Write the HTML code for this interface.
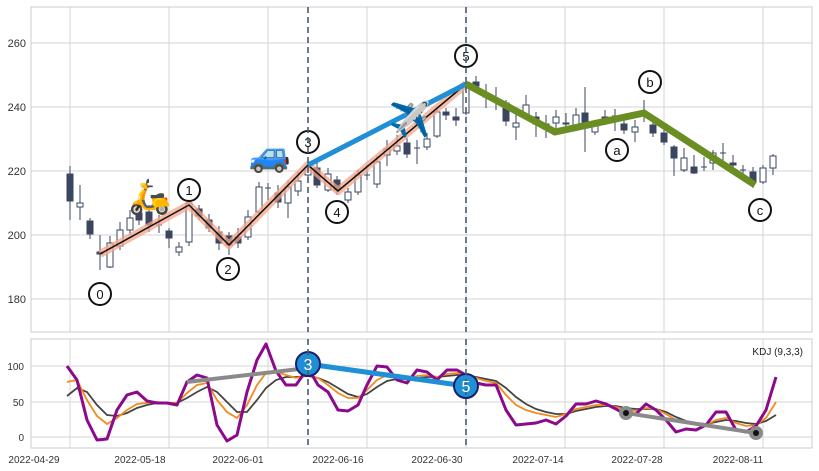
<!DOCTYPE html>
<html><head><meta charset="utf-8"><style>
html,body{margin:0;padding:0;background:#fff;}
svg{display:block;font-family:"Liberation Sans",sans-serif;}
</style></head><body>
<svg width="819" height="471" viewBox="0 0 819 471" xmlns="http://www.w3.org/2000/svg">
<rect width="819" height="471" fill="#fff"/>
<g stroke="#d5d5d5" stroke-width="1">
<line x1="70" y1="7" x2="70" y2="332"/><line x1="169" y1="7" x2="169" y2="332"/><line x1="268" y1="7" x2="268" y2="332"/><line x1="367" y1="7" x2="367" y2="332"/><line x1="466" y1="7" x2="466" y2="332"/><line x1="565" y1="7" x2="565" y2="332"/><line x1="664" y1="7" x2="664" y2="332"/><line x1="763" y1="7" x2="763" y2="332"/>
<line x1="31" y1="43" x2="812" y2="43"/><line x1="31" y1="107" x2="812" y2="107"/><line x1="31" y1="171" x2="812" y2="171"/><line x1="31" y1="235" x2="812" y2="235"/><line x1="31" y1="299" x2="812" y2="299"/>
</g>
<rect x="31" y="7" width="781" height="325" fill="none" stroke="#ccc"/>
<g font-size="11" fill="#333" text-anchor="end">
<text x="26" y="47">260</text><text x="26" y="111">240</text><text x="26" y="175">220</text><text x="26" y="239">200</text><text x="26" y="303">180</text>
</g>
<g stroke="#3a4560" stroke-width="1">
<line x1="70" y1="166" x2="70" y2="220"/><rect x="67" y="174" width="6" height="27" fill="#3a4560"/>
<line x1="80" y1="185" x2="80" y2="220"/><rect x="77" y="203" width="6" height="4" fill="#fff"/>
<line x1="90" y1="218" x2="90" y2="239"/><rect x="87" y="221" width="6" height="13" fill="#3a4560"/>
<line x1="100" y1="235" x2="100" y2="270"/><rect x="97" y="252" width="6" height="2" fill="#3a4560"/>
<line x1="110" y1="236" x2="110" y2="268"/><rect x="107" y="243" width="6" height="24" fill="#fff"/>
<line x1="120" y1="222" x2="120" y2="250"/><rect x="117" y="230" width="6" height="16" fill="#fff"/>
<line x1="130" y1="210" x2="130" y2="235"/><rect x="127" y="218" width="6" height="12" fill="#fff"/>
<line x1="139" y1="205" x2="139" y2="225"/><rect x="136" y="213" width="6" height="7" fill="#3a4560"/>
<line x1="149" y1="205" x2="149" y2="232"/><rect x="146" y="212" width="6" height="13" fill="#3a4560"/>
<line x1="159" y1="215" x2="159" y2="233"/><line x1="156" y1="225" x2="162" y2="225"/>
<line x1="169" y1="228" x2="169" y2="248"/><rect x="166" y="231" width="6" height="7" fill="#3a4560"/>
<line x1="179" y1="242" x2="179" y2="256"/><rect x="176" y="247" width="6" height="5" fill="#fff"/>
<line x1="189" y1="198" x2="189" y2="246"/><rect x="186" y="203" width="6" height="39" fill="#fff"/>
<line x1="199" y1="205" x2="199" y2="220"/><rect x="196" y="209" width="6" height="7" fill="#3a4560"/>
<line x1="209" y1="214" x2="209" y2="232"/><rect x="206" y="220" width="6" height="8" fill="#3a4560"/>
<line x1="219" y1="226" x2="219" y2="250"/><rect x="216" y="232" width="6" height="11" fill="#3a4560"/>
<line x1="229" y1="232" x2="229" y2="255"/><rect x="226" y="236" width="6" height="9" fill="#3a4560"/>
<line x1="238" y1="228" x2="238" y2="248"/><rect x="235" y="237" width="6" height="6" fill="#3a4560"/>
<line x1="248" y1="210" x2="248" y2="240"/><rect x="245" y="217" width="6" height="20" fill="#fff"/>
<line x1="259" y1="182" x2="259" y2="215"/><rect x="256" y="187" width="6" height="25" fill="#fff"/>
<line x1="268" y1="183" x2="268" y2="200"/><line x1="265" y1="188" x2="271" y2="188"/>
<line x1="278" y1="185" x2="278" y2="208"/><rect x="275" y="193" width="6" height="9" fill="#3a4560"/>
<line x1="288" y1="180" x2="288" y2="218"/><rect x="285" y="187" width="6" height="16" fill="#fff"/>
<line x1="298" y1="172" x2="298" y2="196"/><rect x="295" y="181" width="6" height="10" fill="#fff"/>
<line x1="308" y1="162" x2="308" y2="178"/><rect x="305" y="167" width="6" height="8" fill="#fff"/>
<line x1="317" y1="163" x2="317" y2="188"/><rect x="314" y="168" width="6" height="17" fill="#3a4560"/>
<line x1="328" y1="168" x2="328" y2="192"/><rect x="325" y="174" width="6" height="16" fill="#fff"/>
<line x1="337" y1="176" x2="337" y2="195"/><rect x="334" y="180" width="6" height="10" fill="#3a4560"/>
<line x1="348" y1="188" x2="348" y2="203"/><rect x="345" y="192" width="6" height="8" fill="#fff"/>
<line x1="358" y1="170" x2="358" y2="195"/><rect x="355" y="175" width="6" height="17" fill="#fff"/>
<line x1="367" y1="165" x2="367" y2="180"/><line x1="364" y1="175" x2="370" y2="175"/>
<line x1="377" y1="156" x2="377" y2="188"/><rect x="374" y="162" width="6" height="22" fill="#fff"/>
<line x1="387" y1="140" x2="387" y2="166"/><rect x="384" y="149" width="6" height="6" fill="#fff"/>
<line x1="397" y1="135" x2="397" y2="155"/><rect x="394" y="146" width="6" height="5" fill="#fff"/>
<line x1="407" y1="138" x2="407" y2="158"/><rect x="404" y="143" width="6" height="11" fill="#3a4560"/>
<line x1="417" y1="140" x2="417" y2="164"/><line x1="414" y1="148" x2="420" y2="148"/>
<line x1="427" y1="133" x2="427" y2="150"/><rect x="424" y="139" width="6" height="8" fill="#fff"/>
<line x1="437" y1="108" x2="437" y2="138"/><rect x="434" y="112" width="6" height="24" fill="#fff"/>
<line x1="446" y1="108" x2="446" y2="120"/><rect x="443" y="112" width="6" height="3" fill="#3a4560"/>
<line x1="456" y1="108" x2="456" y2="126"/><rect x="453" y="117" width="6" height="3" fill="#3a4560"/>
<line x1="466" y1="80" x2="466" y2="115"/><rect x="463" y="87" width="6" height="26" fill="#fff"/>
<line x1="476" y1="76" x2="476" y2="92"/><rect x="473" y="82" width="6" height="4" fill="#3a4560"/>
<line x1="486" y1="84" x2="486" y2="108"/><rect x="483" y="94" width="6" height="3" fill="#3a4560"/>
<line x1="496" y1="87" x2="496" y2="110"/><line x1="493" y1="98" x2="499" y2="98"/>
<line x1="506" y1="100" x2="506" y2="126"/><rect x="503" y="103" width="6" height="18" fill="#3a4560"/>
<line x1="516" y1="113" x2="516" y2="140"/><rect x="513" y="123" width="6" height="4" fill="#fff"/>
<line x1="526" y1="95" x2="526" y2="120"/><rect x="523" y="105" width="6" height="12" fill="#fff"/>
<line x1="536" y1="112" x2="536" y2="137"/><rect x="533" y="117" width="6" height="7" fill="#3a4560"/>
<line x1="546" y1="115" x2="546" y2="138"/><rect x="543" y="124" width="6" height="5" fill="#fff"/>
<line x1="556" y1="110" x2="556" y2="132"/><rect x="553" y="117" width="6" height="6" fill="#fff"/>
<line x1="566" y1="113" x2="566" y2="128"/><rect x="563" y="123" width="6" height="1" fill="#3a4560"/>
<line x1="576" y1="108" x2="576" y2="128"/><rect x="573" y="115" width="6" height="10" fill="#fff"/>
<line x1="585" y1="87" x2="585" y2="152"/><rect x="582" y="113" width="6" height="10" fill="#3a4560"/>
<line x1="595" y1="120" x2="595" y2="135"/><rect x="592" y="126" width="6" height="6" fill="#fff"/>
<line x1="605" y1="110" x2="605" y2="125"/><rect x="602" y="117" width="6" height="2" fill="#3a4560"/>
<line x1="615" y1="109" x2="615" y2="131"/><line x1="612" y1="116" x2="618" y2="116"/>
<line x1="624" y1="118" x2="624" y2="134"/><rect x="621" y="124" width="6" height="6" fill="#3a4560"/>
<line x1="635" y1="120" x2="635" y2="142"/><rect x="632" y="127" width="6" height="5" fill="#fff"/>
<line x1="644" y1="100" x2="644" y2="122"/><line x1="641" y1="113" x2="647" y2="113"/>
<line x1="653" y1="118" x2="653" y2="137"/><rect x="650" y="125" width="6" height="8" fill="#3a4560"/>
<line x1="664" y1="130" x2="664" y2="145"/><rect x="661" y="133" width="6" height="9" fill="#3a4560"/>
<line x1="674" y1="145" x2="674" y2="176"/><rect x="671" y="147" width="6" height="11" fill="#3a4560"/>
<line x1="684" y1="148" x2="684" y2="172"/><rect x="681" y="158" width="6" height="12" fill="#fff"/>
<line x1="694" y1="155" x2="694" y2="174"/><rect x="691" y="167" width="6" height="6" fill="#3a4560"/>
<line x1="704" y1="157" x2="704" y2="171"/><line x1="701" y1="167" x2="707" y2="167"/>
<line x1="713" y1="150" x2="713" y2="170"/><rect x="710" y="153" width="6" height="10" fill="#fff"/>
<line x1="723" y1="143" x2="723" y2="168"/><line x1="720" y1="153" x2="726" y2="153"/>
<line x1="733" y1="155" x2="733" y2="170"/><rect x="730" y="163" width="6" height="2" fill="#3a4560"/>
<line x1="743" y1="165" x2="743" y2="175"/><line x1="740" y1="170" x2="746" y2="170"/>
<line x1="753" y1="167" x2="753" y2="188"/><rect x="750" y="172" width="6" height="10" fill="#3a4560"/>
<line x1="763" y1="165" x2="763" y2="184"/><rect x="760" y="168" width="6" height="14" fill="#fff"/>
<line x1="773" y1="154" x2="773" y2="175"/><rect x="770" y="156" width="6" height="12" fill="#fff"/>
</g>
<polyline points="100,254 189,205 229,245 308,165 338,191 466,84" fill="none" stroke="#f4a58a" stroke-width="8" stroke-opacity="0.75" stroke-linejoin="round"/>
<polyline points="100,254 189,205 229,245 308,165 338,191 466,84" fill="none" stroke="#111" stroke-width="1.5"/>
<line x1="308" y1="165" x2="466" y2="84" stroke="#1f8fd6" stroke-width="5"/>
<polyline points="466,84 555,132 644,113 755,185" fill="none" stroke="#6b8e23" stroke-width="7" stroke-linejoin="round"/>
<g fill="#fff" stroke="#111" stroke-width="2">
<circle cx="100" cy="294" r="11"/><circle cx="189" cy="190" r="11"/><circle cx="228" cy="269" r="11"/><circle cx="308" cy="142" r="11"/><circle cx="337" cy="212" r="11"/><circle cx="466" cy="56" r="11"/><circle cx="617" cy="150" r="11"/><circle cx="650" cy="82" r="11"/><circle cx="760" cy="210" r="11"/>
</g>
<g font-size="13" fill="#111" text-anchor="middle" font-family="Liberation Sans, sans-serif">
<text x="100" y="299">0</text><text x="189" y="195">1</text><text x="228" y="274">2</text><text x="308" y="147">3</text><text x="337" y="217">4</text><text x="466" y="61">5</text><text x="617" y="155">a</text><text x="650" y="87">b</text><text x="760" y="215">c</text>
</g>
<g font-size="34" text-anchor="middle" font-family="'Noto Color Emoji','DejaVu Sans',sans-serif">
<text x="150" y="208">🛵</text><text x="270" y="166">🚙</text><text x="410" y="131">✈️</text>
</g>
<g stroke="#d5d5d5" stroke-width="1">
<line x1="70" y1="339" x2="70" y2="448"/><line x1="169" y1="339" x2="169" y2="448"/><line x1="268" y1="339" x2="268" y2="448"/><line x1="367" y1="339" x2="367" y2="448"/><line x1="466" y1="339" x2="466" y2="448"/><line x1="565" y1="339" x2="565" y2="448"/><line x1="664" y1="339" x2="664" y2="448"/><line x1="763" y1="339" x2="763" y2="448"/>
<line x1="31" y1="366" x2="812" y2="366"/><line x1="31" y1="402" x2="812" y2="402"/><line x1="31" y1="437" x2="812" y2="437"/>
</g>
<rect x="31" y="339" width="781" height="109" fill="none" stroke="#ccc"/>
<g font-size="10" fill="#333" text-anchor="end">
<text x="24" y="370">100</text><text x="24" y="406">50</text><text x="24" y="441">0</text>
</g>
<g font-size="10" fill="#333" text-anchor="middle">
<text x="34" y="463">2022-04-29</text><text x="140" y="463">2022-05-18</text><text x="238" y="463">2022-06-01</text><text x="338" y="463">2022-06-16</text><text x="437" y="463">2022-06-30</text><text x="538" y="463">2022-07-14</text><text x="637" y="463">2022-07-28</text><text x="738" y="463">2022-08-11</text>
</g>
<text x="803" y="355" font-size="10" fill="#222" text-anchor="end">KDJ (9,3,3)</text>
<polyline fill="none" stroke="#444" stroke-width="1.8" points="67,396 77,388 87,392 97,405 107,415 117,416 127,413 137,408 147,405 157,403 167,403 177,403 187,398 197,392 207,387 217,392 227,402 237,412 247,412 257,400 266,388 276,380 286,377 296,377 308,376 318,378 328,382 338,388 348,394 358,397 367,394 377,387 387,381 397,379 407,379 417,378 427,377 437,377 447,376 457,375 466,375 476,377 486,379 496,381 506,388 516,397 526,404 536,409 546,412 556,414 566,414 576,411 586,409 596,407 606,406 616,406 626,408 636,409 646,409 656,409 666,412 676,417 686,421 696,423 706,424 716,422 726,420 736,421 746,423 756,424 766,421 776,415"/>
<polyline fill="none" stroke="#f28a1e" stroke-width="1.8" points="67,382 77,380 87,400 97,416 107,424 117,418 127,410 137,404 147,403 157,402 167,403 177,403 187,393 197,385 207,383 217,400 227,412 237,418 247,405 257,385 266,373 276,372 286,375 296,378 308,375 318,378 328,385 338,393 348,398 358,398 367,390 377,380 387,375 397,377 407,380 417,376 427,375 437,377 447,374 457,373 466,375 476,378 486,381 496,383 506,395 516,405 526,410 536,413 546,415 556,417 566,414 576,409 586,407 596,405 606,405 616,407 626,410 636,411 646,408 656,409 666,414 676,420 686,423 696,425 706,425 716,420 726,418 736,423 746,426 756,425 766,418 776,402"/>
<polyline fill="none" stroke="#8b0a8b" stroke-width="3" stroke-linejoin="round" points="67,366 77,380 87,420 97,440 107,439 117,410 127,395 137,392 147,401 157,403 167,403 177,405 187,382 197,375 207,378 217,425 227,441 237,435 247,392 257,360 266,344 276,371 286,385 296,385 308,368 318,385 328,392 338,410 348,411 358,405 367,385 377,366 387,367 397,380 407,383 417,370 427,372 437,380 447,370 457,370 466,375 476,383 486,385 496,385 506,410 516,425 526,424 536,423 546,420 556,424 566,416 576,404 586,404 596,401 606,404 616,409 626,415 636,414 646,404 656,410 666,420 676,432 686,429 696,430 706,425 716,412 726,412 736,430 746,432 756,426 766,410 776,377"/>
<line x1="187" y1="382" x2="308" y2="368" stroke="#8a8a8a" stroke-width="4"/>
<line x1="626" y1="413" x2="756" y2="433" stroke="#8a8a8a" stroke-width="4"/>
<circle cx="626" cy="413" r="7" fill="#8a8a8a"/><circle cx="626" cy="413" r="3" fill="#111"/>
<circle cx="756" cy="433" r="7" fill="#8a8a8a"/><circle cx="756" cy="433" r="3" fill="#111"/>
<line x1="308" y1="364" x2="466" y2="386" stroke="#1f8fd6" stroke-width="5"/>
<circle cx="308" cy="364" r="12" fill="#1f8fd6" stroke="#1a1f6e" stroke-width="2"/>
<circle cx="466" cy="386" r="12" fill="#1f8fd6" stroke="#1a1f6e" stroke-width="2"/>
<g stroke="#4a5a70" stroke-width="1.6" stroke-dasharray="6,4">
<line x1="308" y1="7" x2="308" y2="332"/><line x1="466" y1="7" x2="466" y2="332"/>
<line x1="308" y1="339" x2="308" y2="448"/><line x1="466" y1="339" x2="466" y2="448"/>
</g>
<text x="308" y="370" font-size="16" fill="#fff" text-anchor="middle" font-family="Liberation Sans, sans-serif">3</text>
<text x="466" y="392" font-size="16" fill="#fff" text-anchor="middle" font-family="Liberation Sans, sans-serif">5</text>
</svg>
</body></html>
